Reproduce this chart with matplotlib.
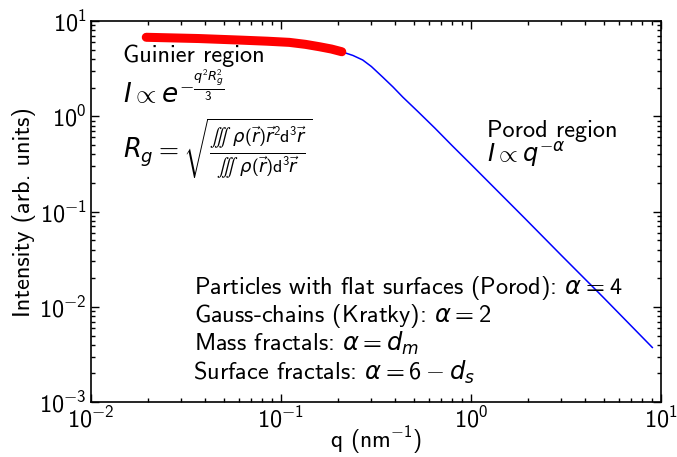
import math
import matplotlib
matplotlib.use("Agg")
import matplotlib.pyplot as plt
from matplotlib.ticker import FuncFormatter, LogLocator

plt.rcParams['font.family'] = 'cmss10'
plt.rcParams['mathtext.fontset'] = 'custom'
plt.rcParams['mathtext.rm'] = 'cmss10'
plt.rcParams['mathtext.it'] = 'DejaVu Sans:italic'
plt.rcParams['mathtext.fallback'] = 'cm'
plt.rcParams['axes.unicode_minus'] = False

# curve (q in nm^-1, intensity in arb. units)
q_full = [0.0196, 0.037, 0.0608, 0.085, 0.111, 0.135, 0.160, 0.185, 0.2096,
          0.24, 0.270, 0.30, 0.344, 0.39, 0.439, 0.53, 0.647, 0.8, 1.0,
          1.92, 3.0, 5.0, 9.03]
i_full = [6.75, 6.55, 6.31, 6.14, 5.97, 5.69, 5.37, 5.08, 4.76,
          4.35, 3.90, 3.33, 2.58, 2.03, 1.59, 1.11, 0.753, 0.49, 0.315,
          0.0855, 0.0347, 0.0125, 0.00375]

# Guinier part (highlighted)
q_guinier = [0.0196, 0.037, 0.0608, 0.085, 0.111, 0.135, 0.160, 0.185, 0.2096]
i_guinier = [6.75, 6.55, 6.31, 6.14, 5.97, 5.69, 5.37, 5.08, 4.76]

alpha_lines = [
    r"Particles with flat surfaces (Porod): $\alpha = 4$",
    r"Gauss-chains (Kratky): $\alpha = 2$",
    r"Mass fractals: $\alpha = d_m$",
    r"Surface fractals: $\alpha = 6 - d_s$",
]


def pow10(v, pos):
    # cmss10 has no minus glyph, borrow it from the italic font
    e = int(round(math.log10(v)))
    if e < 0:
        return r"$10^{\mathit{-}%d}$" % (-e)
    return r"$10^{%d}$" % e


fig = plt.figure(figsize=(6.77, 4.57), dpi=100)
ax = fig.add_axes([0.134, 0.120, 0.842, 0.834])

ax.loglog(q_full, i_full, color="blue", lw=1.1)
ax.loglog(q_guinier, i_guinier, color="red", lw=6.5, solid_capstyle="round")

fs = 17.5
ax.set_xlim(1e-2, 1e1)
ax.set_ylim(1e-3, 1e1)
for axis in (ax.xaxis, ax.yaxis):
    axis.set_major_locator(LogLocator(base=10))
    axis.set_major_formatter(FuncFormatter(pow10))
ax.set_xlabel(r"q (nm$^{\mathit{-}1}$)", fontsize=17, labelpad=-6)
ax.set_ylabel("Intensity (arb. units)", fontsize=fs, labelpad=2)
ax.tick_params(which="both", direction="in", top=True, right=True,
               labelsize=fs, width=1)
ax.tick_params(which="major", length=6, pad=3)
ax.tick_params(which="minor", length=3)
for s in ax.spines.values():
    s.set_linewidth(1.2)

ax.text(0.056, 0.892, "Guinier region", transform=ax.transAxes, fontsize=fs)
ax.text(0.056, 0.785, r"$I \propto e^{-\frac{q^2 R_g^2}{3}}$",
        transform=ax.transAxes, fontsize=19)
ax.text(0.056, 0.640,
        r"$R_g = \sqrt{\frac{\iiint\ \rho(\vec{r})\vec{r}^2\mathrm{d}^3\vec{r}}"
        r"{\iiint\ \rho(\vec{r})\mathrm{d}^3\vec{r}}}$",
        transform=ax.transAxes, fontsize=18.5)
ax.text(0.695, 0.696, "Porod region", transform=ax.transAxes, fontsize=fs)
ax.text(0.695, 0.630, r"$I \propto q^{-\alpha}$", transform=ax.transAxes,
        fontsize=fs)

ys = [0.283, 0.210, 0.134, 0.058]
xs = [0.182, 0.182, 0.182, 0.179]
for txt, x, y in zip(alpha_lines, xs, ys):
    ax.text(x, y, txt, transform=ax.transAxes, fontsize=fs)

fig.savefig("out.png", dpi=100)
